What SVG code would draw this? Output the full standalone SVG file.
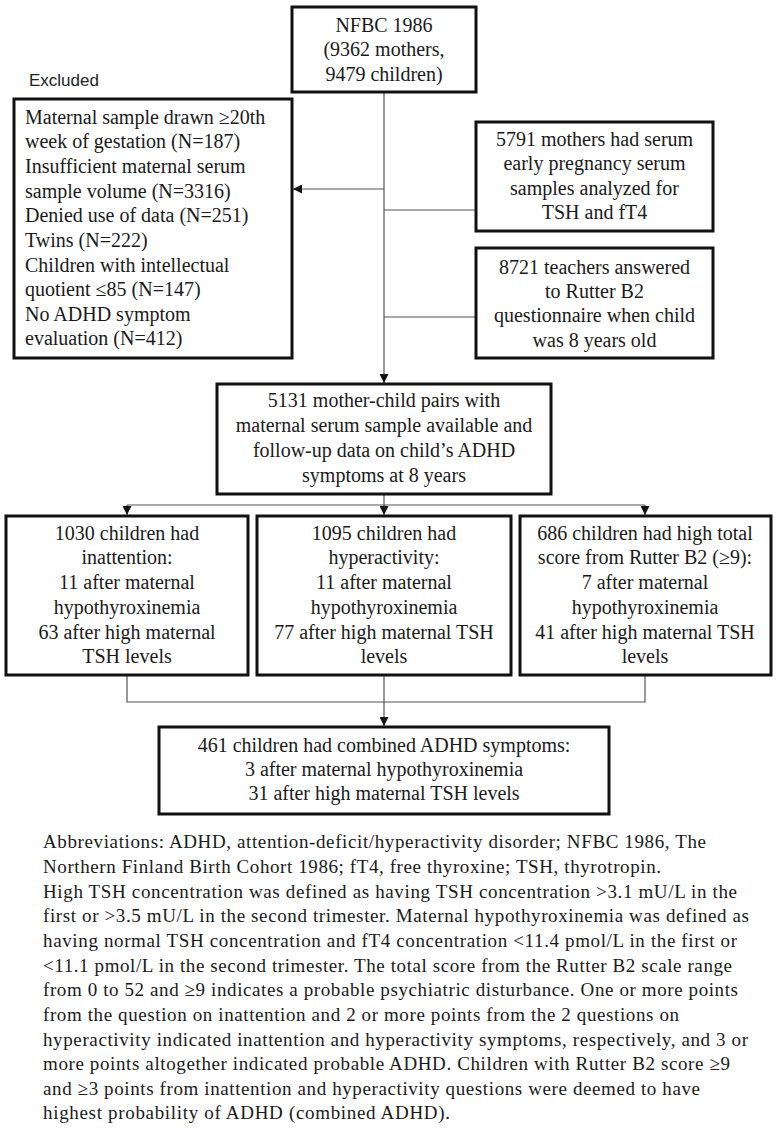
<svg xmlns="http://www.w3.org/2000/svg" width="780" height="1129" viewBox="0 0 780 1129">
<style>
.box{fill:#fff;stroke:#111;stroke-width:3}
.t{font-family:"Liberation Serif","Times New Roman",serif;font-size:20px;fill:#1a1a1a}
.c{text-anchor:middle}
.fn{font-family:"Liberation Serif","Times New Roman",serif;font-size:19px;fill:#1a1a1a}
.lbl{font-family:"Liberation Sans",Arial,sans-serif;font-size:17px;fill:#222}
.ln{fill:none;stroke:#555;stroke-width:1.2}
</style>
<defs>
<marker id="ah" viewBox="0 0 10 10" refX="10" refY="5" markerWidth="9" markerHeight="9" markerUnits="userSpaceOnUse" orient="auto">
<path d="M0,0 L10,5 L0,10 z" fill="#111"/>
</marker>
</defs>
<rect width="780" height="1129" fill="#fff"/>

<g id="connectors">
<path class="ln" d="M384,92 V383" marker-end="url(#ah)"/>
<path class="ln" d="M384,189 H293" marker-end="url(#ah)"/>
<path class="ln" d="M384,210 H476"/>
<path class="ln" d="M384,317 H476"/>
<path class="ln" d="M384,494 V505"/>
<path class="ln" d="M127,505 H645"/>
<path class="ln" d="M127,505 V515" marker-end="url(#ah)"/>
<path class="ln" d="M384,505 V515" marker-end="url(#ah)"/>
<path class="ln" d="M645,505 V515" marker-end="url(#ah)"/>
<path class="ln" d="M127,675 V702 H645 V675"/>
<path class="ln" d="M384,675 V726" marker-end="url(#ah)"/>
</g>

<g id="nfbc">
<rect class="box" x="292" y="7" width="184" height="85"/>
<text class="t c" x="384" y="32">NFBC 1986</text>
<text class="t c" x="384" y="56">(9362 mothers,</text>
<text class="t c" x="384" y="81">9479 children)</text>
</g>

<g id="excluded-label">
<text class="lbl" x="29" y="86">Excluded</text>
</g>

<g id="excluded">
<rect class="box" x="14" y="99" width="278" height="259"/>
<text class="t" x="25" y="124">Maternal sample drawn ≥20th</text>
<text class="t" x="25" y="148">week of gestation (N=187)</text>
<text class="t" x="25" y="173">Insufficient maternal serum</text>
<text class="t" x="25" y="198">sample volume (N=3316)</text>
<text class="t" x="25" y="222">Denied use of data (N=251)</text>
<text class="t" x="25" y="247">Twins (N=222)</text>
<text class="t" x="25" y="272">Children with intellectual</text>
<text class="t" x="25" y="296">quotient ≤85 (N=147)</text>
<text class="t" x="25" y="321">No ADHD symptom</text>
<text class="t" x="25" y="345">evaluation (N=412)</text>
</g>

<g id="serum">
<rect class="box" x="476" y="122" width="237" height="109"/>
<text class="t c" x="594.5" y="146">5791 mothers had serum</text>
<text class="t c" x="594.5" y="170">early pregnancy serum</text>
<text class="t c" x="594.5" y="195">samples analyzed for</text>
<text class="t c" x="594.5" y="219">TSH and fT4</text>
</g>

<g id="teachers">
<rect class="box" x="476" y="248" width="237" height="110"/>
<text class="t c" x="594.5" y="274">8721 teachers answered</text>
<text class="t c" x="594.5" y="298">to Rutter B2</text>
<text class="t c" x="594.5" y="322">questionnaire when child</text>
<text class="t c" x="594.5" y="347">was 8 years old</text>
</g>

<g id="pairs">
<rect class="box" x="217" y="384" width="334" height="110"/>
<text class="t c" x="384" y="407">5131 mother-child pairs with</text>
<text class="t c" x="384" y="432">maternal serum sample available and</text>
<text class="t c" x="384" y="457">follow-up data on child’s ADHD</text>
<text class="t c" x="384" y="482">symptoms at 8 years</text>
</g>

<g id="inattention">
<rect class="box" x="6" y="516" width="242" height="159"/>
<text class="t c" x="127" y="540">1030 children had</text>
<text class="t c" x="127" y="564">inattention:</text>
<text class="t c" x="127" y="589">11 after maternal</text>
<text class="t c" x="127" y="614">hypothyroxinemia</text>
<text class="t c" x="127" y="639">63 after high maternal</text>
<text class="t c" x="127" y="663">TSH levels</text>
</g>

<g id="hyperactivity">
<rect class="box" x="257" y="516" width="254" height="159"/>
<text class="t c" x="384" y="540">1095 children had</text>
<text class="t c" x="384" y="564">hyperactivity:</text>
<text class="t c" x="384" y="589">11 after maternal</text>
<text class="t c" x="384" y="614">hypothyroxinemia</text>
<text class="t c" x="384" y="639">77 after high maternal TSH</text>
<text class="t c" x="384" y="663">levels</text>
</g>

<g id="rutter">
<rect class="box" x="520" y="516" width="251" height="159"/>
<text class="t c" x="645" y="540">686 children had high total</text>
<text class="t c" x="645" y="564">score from Rutter B2 (≥9):</text>
<text class="t c" x="645" y="589">7 after maternal</text>
<text class="t c" x="645" y="614">hypothyroxinemia</text>
<text class="t c" x="645" y="639">41 after high maternal TSH</text>
<text class="t c" x="645" y="663">levels</text>
</g>

<g id="combined">
<rect class="box" x="159" y="727" width="450" height="87"/>
<text class="t c" x="384" y="752">461 children had combined ADHD symptoms:</text>
<text class="t c" x="384" y="776">3 after maternal hypothyroxinemia</text>
<text class="t c" x="384" y="800">31 after high maternal TSH levels</text>
</g>

<g id="footnote">
<text class="fn" x="43" y="848" textLength="663" lengthAdjust="spacing">Abbreviations: ADHD, attention-deficit/hyperactivity disorder; NFBC 1986, The</text>
<text class="fn" x="43" y="873" textLength="618" lengthAdjust="spacing">Northern Finland Birth Cohort 1986; fT4, free thyroxine; TSH, thyrotropin.</text>
<text class="fn" x="43" y="898" textLength="694" lengthAdjust="spacing">High TSH concentration was defined as having TSH concentration &gt;3.1 mU/L in the</text>
<text class="fn" x="43" y="922" textLength="706" lengthAdjust="spacing">first or &gt;3.5 mU/L in the second trimester. Maternal hypothyroxinemia was defined as</text>
<text class="fn" x="43" y="947" textLength="694" lengthAdjust="spacing">having normal TSH concentration and fT4 concentration &lt;11.4 pmol/L in the first or</text>
<text class="fn" x="43" y="972" textLength="689" lengthAdjust="spacing">&lt;11.1 pmol/L in the second trimester. The total score from the Rutter B2 scale range</text>
<text class="fn" x="43" y="996" textLength="695" lengthAdjust="spacing">from 0 to 52 and ≥9 indicates a probable psychiatric disturbance. One or more points</text>
<text class="fn" x="43" y="1021" textLength="636" lengthAdjust="spacing">from the question on inattention and 2 or more points from the 2 questions on</text>
<text class="fn" x="43" y="1046" textLength="705" lengthAdjust="spacing">hyperactivity indicated inattention and hyperactivity symptoms, respectively, and 3 or</text>
<text class="fn" x="43" y="1070" textLength="687" lengthAdjust="spacing">more points altogether indicated probable ADHD. Children with Rutter B2 score ≥9</text>
<text class="fn" x="43" y="1095" textLength="657" lengthAdjust="spacing">and ≥3 points from inattention and hyperactivity questions were deemed to have</text>
<text class="fn" x="43" y="1119" textLength="407" lengthAdjust="spacing">highest probability of ADHD (combined ADHD).</text>
</g>
</svg>
